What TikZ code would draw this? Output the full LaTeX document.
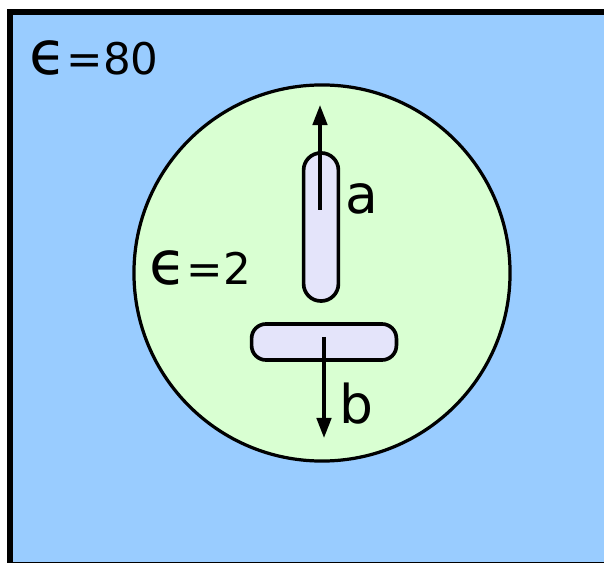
\documentclass[tikz,border=0pt]{standalone}
\usepackage{fontspec}
\setmainfont{DejaVu Sans}
\usepackage{xcolor}
\usetikzlibrary{arrows.meta,positioning}
\definecolor{water}{HTML}{99CCFF}
\definecolor{protein}{HTML}{D9FFD2}
\definecolor{rodfill}{HTML}{E4E4FA}
\newcommand{\epsglyph}{{\fontsize{43}{48}\selectfont ϵ}}

\begin{document}
\begin{tikzpicture}[x=0.025cm,y=-0.025cm,
  rod/.style={draw,line width=2.6pt,fill=rodfill,inner sep=0pt},
  dip/.style={-{Triangle[length=0.5cm,width=0.36cm]},line width=2.4pt},
  lbl/.style={anchor=base west,inner sep=0pt},
  eps/.style={lbl,font=\fontsize{31}{36}\selectfont}
]
  \useasboundingbox (0,0) rectangle (604,563);
  \clip (0,0) rectangle (604,563);
  % solvent box and cavity
  \draw[line width=3.6pt,fill=water] (10,12) rectangle (640,565);
  \node[circle,draw,line width=2.3pt,fill=protein,minimum size=9.4cm,inner sep=0pt] (cav) at (322,273) {};
  \node[eps] (eout) at (29,75) {\epsglyph=80};
  \node[eps] (ein) at (149,285) {\epsglyph=2};
  % the two dipoles
  \node[rod,minimum width=0.87cm,minimum height=3.7cm,rounded corners=0.43cm] (roda) at (321,227) {};
  \node[rod,minimum width=3.62cm,minimum height=0.9cm,rounded corners=0.36cm] (rodb) at (324,342) {};
  \coordinate (atail) at (320,210);
  \coordinate (ahead) at (320,105);
  \coordinate (btail) at (324,337);
  \coordinate (bhead) at (324,438);
  \draw[dip] (atail) -- (ahead);
  \draw[dip] (btail) -- (bhead);
  \node[lbl,font=\fontsize{38}{42}\selectfont] (la) at (345,214) {a};
  \node[lbl,font=\fontsize{38}{42}\selectfont] (lb) at (339,423) {b};
\end{tikzpicture}
\end{document}
